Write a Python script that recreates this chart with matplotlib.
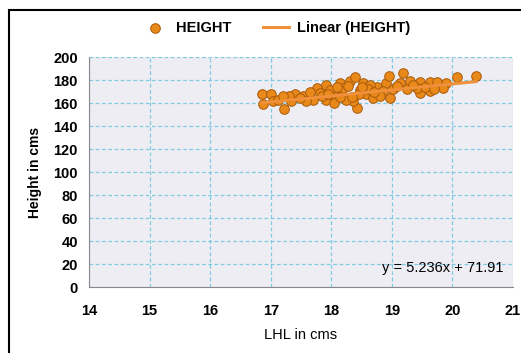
import matplotlib
matplotlib.use("Agg")
from matplotlib import pyplot as plt
from matplotlib.patches import Rectangle
import numpy as np

plt.rcParams['font.family'] = ['Liberation Sans', 'DejaVu Sans']

# LHL (cm) and height (cm)
lhl = [16.85, 17.01, 16.88, 17.04, 17.22, 17.40, 17.54, 17.76, 17.92, 18.14,
       18.31, 18.39, 18.53, 18.42, 18.36, 18.75, 18.91, 18.96, 19.19, 19.30,
       19.46, 19.63, 19.74, 19.90, 20.07, 20.39, 18.97, 19.46, 19.63, 19.85,
       18.14, 18.25, 17.92, 17.70, 18.03, 18.58, 18.69, 19.13, 18.86, 17.81,
       17.59, 17.34, 17.12, 19.41, 18.20, 18.48, 18.05, 17.48, 19.02, 18.64,
       17.85, 17.98, 18.10, 18.28, 18.45, 18.60, 18.80, 19.08, 19.25, 19.55,
       17.65, 17.30, 18.70, 18.35, 19.35, 18.15, 17.95, 19.70, 18.50, 17.20]
height = [167.5, 167.5, 159.5, 161.6, 155.0, 168.0, 166.0, 173.0, 176.0, 177.0,
          179.5, 182.5, 177.7, 156.0, 161.6, 174.0, 177.0, 183.5, 186.0, 179.5,
          178.6, 178.6, 178.6, 177.0, 183.0, 183.6, 164.5, 169.0, 170.5, 173.5,
          169.0, 163.0, 163.0, 163.0, 167.5, 167.5, 164.5, 177.0, 170.5, 169.0,
          161.6, 161.6, 163.0, 173.5, 173.0, 171.0, 160.0, 164.0, 172.0, 176.0,
          166.0, 171.0, 174.0, 175.0, 168.0, 172.0, 166.0, 175.0, 172.0, 174.0,
          170.0, 166.0, 170.0, 165.0, 176.0, 165.0, 168.0, 172.0, 174.0, 166.0]
slope, intercept = 5.236, 71.91

x_ticks = [14, 15, 16, 17, 18, 19, 20, 21]
y_ticks = list(range(0, 201, 20))

fig = plt.figure(figsize=(5.21, 3.53), dpi=100)
fig.patches.append(Rectangle((9 / 521, -0.05), 1.1, 1 - 10 / 353 + 0.05,
                             transform=fig.transFigure, fill=False,
                             edgecolor='black', linewidth=1.5))

ax = fig.add_axes([0.1708, 0.1861, 0.8138, 0.6524])
ax.set_facecolor('#EFEDF4')

ax.scatter(lhl, height, s=48, color='#E8891A', edgecolor='#A85A0A',
           linewidth=0.7, zorder=3, label='HEIGHT')
xs = np.array([min(lhl), max(lhl)])
ax.plot(xs, slope * xs + intercept, color='#F0903A', linewidth=2.2,
        zorder=4, label='Linear (HEIGHT)')

ax.set_xlim(14, 21)
ax.set_ylim(0, 200)
ax.set_xticks(x_ticks)
ax.set_yticks(y_ticks)
ax.grid(True, color='#7FCCE0', linestyle=(0, (3, 2)), linewidth=0.9,
        snap=True)
ax.set_axisbelow(True)
for s in ['top', 'right']:
    ax.spines[s].set_visible(False)
for s in ['left', 'bottom']:
    ax.spines[s].set_color('#888888')
ax.tick_params(length=0, labelsize=10.5, pad=8)
for lab in ax.get_xticklabels() + ax.get_yticklabels():
    lab.set_fontweight('bold')
ax.tick_params(axis='x', pad=12)

ax.set_xlabel('LHL in cms', fontsize=10.5, labelpad=7)
ax.set_ylabel('Height in cms', fontsize=10, fontweight='bold', labelpad=8)

ax.text(20.85, 11, 'y = 5.236x + 71.91', fontsize=10.5, ha='right',
        va='bottom')

fig.legend(loc='center', bbox_to_anchor=(0.53, 1 - 28 / 353), ncol=2,
           frameon=False, prop={'weight': 'bold', 'size': 10.5},
           handlelength=1.8, columnspacing=2.2, handletextpad=0.5)

plt.savefig('out.png', dpi=100)
